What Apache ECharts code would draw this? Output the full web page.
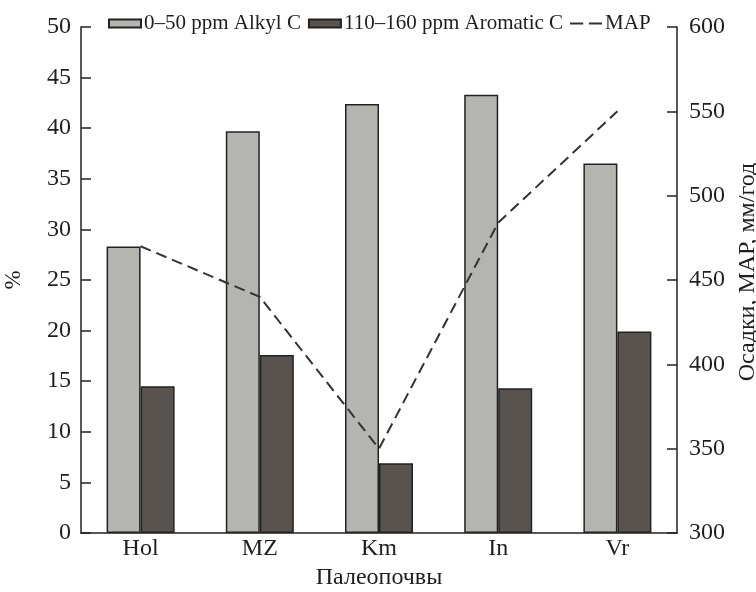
<!DOCTYPE html>
<html>
<head>
<meta charset="utf-8">
<script src="https://cdn.jsdelivr.net/npm/echarts@6/dist/echarts.min.js"></script>
<style>html,body{margin:0;padding:0;background:#fff}#c{width:756px;height:592px}</style>
</head>
<body>
<div id="c"></div>
<script>
const categories = ['Hol', 'MZ', 'Km', 'In', 'Vr'];
const alkylC = [28.3, 39.7, 42.4, 43.3, 36.5];
const aromaticC = [14.5, 17.6, 6.9, 14.3, 19.9];
const mapPrecip = [470, 440, 350, 484, 550];
const seriesNames = ['0–50 ppm Alkyl C', '110–160 ppm Aromatic C', 'MAP'];

const serif = 'Liberation Serif';
const txt = '#1e1e1e';
const chart = echarts.init(document.getElementById('c'), null, {renderer: 'canvas'});
chart.setOption({
  animation: false,
  backgroundColor: '#ffffff',
  grid: {left: 81, right: 79, top: 27, bottom: 59, containLabel: false, outerBoundsMode: 'none'},
  legend: {
    left: 103, top: 8,
    itemWidth: 32, itemHeight: 8, itemGap: 7,
    textStyle: {fontFamily: serif, fontSize: 21, color: txt, padding: [0, 0, 0, -2]},
    data: [
      {name: seriesNames[0], icon: 'rect'},
      {name: seriesNames[1], icon: 'rect'},
      {name: seriesNames[2], icon: 'path://M0,0h0.01v8h-0.01z M0,3h14v2h-14z M20,3h14v2h-14z'}
    ]
  },
  xAxis: {
    type: 'category', data: categories,
    name: 'Палеопочвы', nameLocation: 'middle', nameGap: 24,
    nameTextStyle: {fontFamily: serif, fontSize: 24, color: txt},
    axisLine: {lineStyle: {color: '#222', width: 1.5}},
    axisTick: {show: false},
    axisLabel: {fontFamily: serif, fontSize: 24, color: txt, margin: 4}
  },
  yAxis: [{
    type: 'value', min: 0, max: 50, interval: 5,
    name: '%', nameLocation: 'middle', nameGap: 56, nameRotate: 90,
    nameTextStyle: {fontFamily: serif, fontSize: 23, color: txt},
    axisLine: {show: true, lineStyle: {color: '#222', width: 1.5}},
    axisTick: {show: true, inside: true, length: 10, lineStyle: {color: '#222', width: 1.5}},
    axisLabel: {fontFamily: serif, fontSize: 24, color: txt, margin: 10},
    splitLine: {show: false}
  }, {
    type: 'value', min: 300, max: 600, interval: 50, position: 'right',
    name: 'Осадки, МАР, мм/год', nameLocation: 'middle', nameGap: 56, nameRotate: 90,
    nameTextStyle: {fontFamily: serif, fontSize: 24, color: txt, padding: [0, 0, 0, 16]},
    axisLine: {show: true, lineStyle: {color: '#222', width: 1.5}},
    axisTick: {show: true, inside: true, length: 10, lineStyle: {color: '#222', width: 1.5}},
    axisLabel: {fontFamily: serif, fontSize: 24, color: txt, margin: 12},
    splitLine: {show: false}
  }],
  series: [{
    name: seriesNames[0], type: 'bar', data: alkylC, barWidth: 34, barGap: '0%',
    itemStyle: {color: '#b4b4b0', borderColor: '#222', borderWidth: 1.5}
  }, {
    name: seriesNames[1], type: 'bar', data: aromaticC, barWidth: 34, barGap: '0%',
    itemStyle: {color: '#58534e', borderColor: '#222', borderWidth: 1.5}
  }, {
    name: seriesNames[2], type: 'line', yAxisIndex: 1, data: mapPrecip,
    symbol: 'none', z: 5,
    itemStyle: {color: '#333'},
    lineStyle: {color: '#333', width: 2, type: [11, 6]}
  }]
});
</script>
</body>
</html>
